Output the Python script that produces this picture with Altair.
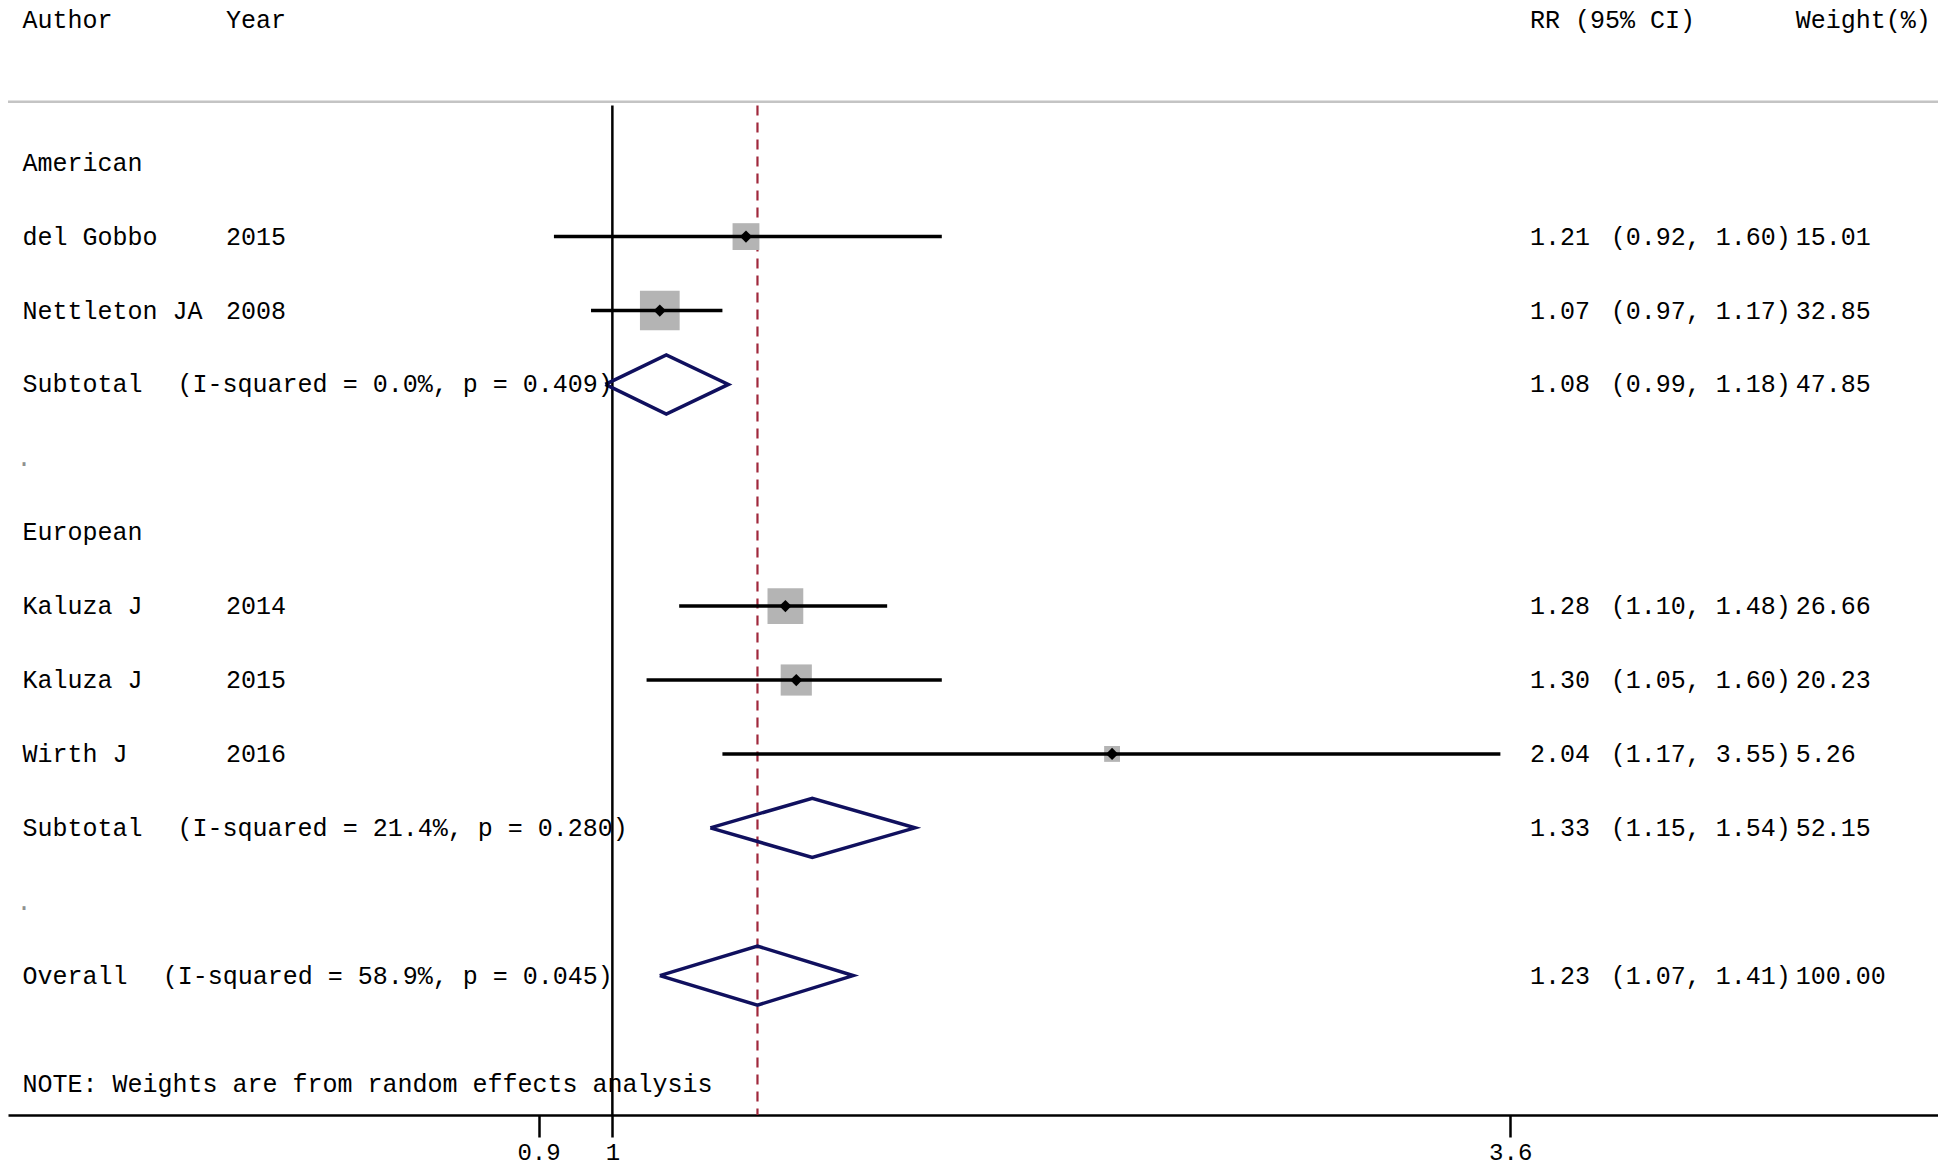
import altair as alt
import pandas as pd

# ---------------- data ----------------
study_authors = ["del Gobbo", "Nettleton JA", "Kaluza J", "Kaluza J", "Wirth J"]
study_years = ["2015", "2008", "2014", "2015", "2016"]
study_rr = [1.21, 1.07, 1.28, 1.30, 2.04]
study_lo = [0.92, 0.97, 1.10, 1.05, 1.17]
study_hi = [1.60, 1.17, 1.48, 1.60, 3.55]
study_wt = [15.01, 32.85, 26.66, 20.23, 5.26]
study_rows = [2, 3, 7, 8, 9]

pooled_labels = ["Subtotal", "Subtotal", "Overall"]
pooled_stats = ["(I-squared = 0.0%, p = 0.409)",
                "(I-squared = 21.4%, p = 0.280)",
                "(I-squared = 58.9%, p = 0.045)"]
pooled_rr = [1.08, 1.33, 1.23]
pooled_lo = [0.99, 1.15, 1.07]
pooled_hi = [1.18, 1.54, 1.41]
pooled_wt = [47.85, 52.15, 100.00]
pooled_rows = [4, 10, 12]

group_labels = ["American", "European"]
group_rows = [1, 6]
spacer_rows = [5, 11]

header_texts = ["Author", "Year", "RR (95% CI)", "Weight(%)"]
note_text = "NOTE: Weights are from random effects analysis"
tick_values = [0.9, 1, 3.6]

# ---------------- layout ----------------
W, H = 1930, 1107
FONT = "Liberation Mono"
FS = 25
X_AUTHOR, X_YEAR, X_SUB, X_OVR = 14.4, 218.0, 169.6, 154.7
X_RR, X_CI, X_WT = 1522.0, 1602.7, 1787.8
HEADER_ROW, HLINE_ROW, VTOP_ROW, NOTE_ROW = -0.93, 0.176, 0.227, 13.47
Y_TOP, Y_BOTTOM = -1.0934, 13.886
DIAMOND_H = 0.40

xscale = alt.Scale(type="log", domain=[0.4222, 6.628], nice=False)
yscale = alt.Scale(domain=[Y_TOP, Y_BOTTOM], reverse=True, nice=False, zero=False)
xaxis = alt.Axis(values=tick_values, format="~g", tickSize=22, tickWidth=2.5,
                 tickColor="black", domainColor="black", domainWidth=2.5,
                 labelFont=FONT, labelFontSize=24, labelColor="black",
                 labelPadding=3, grid=False, title=None, labelFlush=False)


def X(field):
    return alt.X(field, type="quantitative", scale=xscale, axis=xaxis)


def Y(field):
    return alt.Y(field, type="quantitative", scale=yscale, axis=None)


studies = pd.DataFrame({
    "author": study_authors, "year": study_years, "rr": study_rr,
    "lo": study_lo, "hi": study_hi, "wt": study_wt, "row": study_rows,
})
studies["est_s"] = [f"{v:.2f}" for v in study_rr]
studies["ci_s"] = [f"({l:.2f}, {h:.2f})" for l, h in zip(study_lo, study_hi)]
studies["wt_s"] = [f"{v:.2f}" for v in study_wt]

pooled = pd.DataFrame({
    "label": pooled_labels, "stats": pooled_stats, "rr": pooled_rr,
    "lo": pooled_lo, "hi": pooled_hi, "wt": pooled_wt, "row": pooled_rows,
})
pooled["est_s"] = [f"{v:.2f}" for v in pooled_rr]
pooled["ci_s"] = [f"({l:.2f}, {h:.2f})" for l, h in zip(pooled_lo, pooled_hi)]
pooled["wt_s"] = [f"{v:.2f}" for v in pooled_wt]

# diamond outlines from pooled estimates
dia_rows = []
for i, (l, e, h, r) in enumerate(zip(pooled_lo, pooled_rr, pooled_hi, pooled_rows)):
    pts = [(l, r), (e, r - DIAMOND_H), (h, r), (e, r + DIAMOND_H), (l, r)]
    for k, (xv, yv) in enumerate(pts):
        dia_rows.append({"id": i, "k": k, "xv": xv, "yv": yv})
diamonds = pd.DataFrame(dia_rows)

groups = pd.DataFrame({"label": group_labels, "row": group_rows})
spacers = pd.DataFrame({"label": ["."] * len(spacer_rows), "row": spacer_rows})
note = pd.DataFrame({"label": [note_text], "row": [NOTE_ROW]})
hline = pd.DataFrame({"row": [HLINE_ROW]})
null_line = pd.DataFrame({"v": [1.0], "y0": [VTOP_ROW], "y1": [Y_BOTTOM]})
overall_line = pd.DataFrame({"v": [pooled_rr[-1]], "y0": [VTOP_ROW], "y1": [Y_BOTTOM]})


def text_layer(df, field, xpx, color="black"):
    return alt.Chart(df).mark_text(
        align="left", baseline="middle", font=FONT, fontSize=FS, color=color
    ).encode(x=alt.value(xpx), y=Y("row"), text=alt.Text(field, type="nominal"))


headers = [
    text_layer(pd.DataFrame({"t": [t], "row": [HEADER_ROW]}), "t", xp)
    for t, xp in zip(header_texts, [X_AUTHOR, X_YEAR, X_RR, X_WT])
]

layers = [
    alt.Chart(hline).mark_rule(color="#c4c4c4", strokeWidth=2.5).encode(
        y=Y("row"), x=alt.value(0), x2=alt.value(W)),
    alt.Chart(null_line).mark_rule(color="black", strokeWidth=2.5).encode(
        x=X("v"), y=Y("y0"), y2="y1"),
    alt.Chart(overall_line).mark_rule(color="#a0283c", strokeWidth=2.2,
                                      strokeDash=[10, 7]).encode(
        x=X("v"), y=Y("y0"), y2="y1"),
    alt.Chart(studies).mark_square(filled=True, color="#b4b4b4", opacity=1).encode(
        x=X("rr"), y=Y("row"),
        size=alt.Size("wt:Q", scale=alt.Scale(domain=[0, 100], range=[0, 4800]),
                      legend=None)),
    alt.Chart(studies).mark_rule(color="black", strokeWidth=3.5).encode(
        x=X("lo"), x2="hi", y=Y("row")),
    alt.Chart(studies).mark_point(shape="diamond", filled=True, color="black",
                                  opacity=1, size=150).encode(
        x=X("rr"), y=Y("row")),
    alt.Chart(diamonds).mark_line(color="#10105e", strokeWidth=3.5).encode(
        x=X("xv"), y=Y("yv"), detail="id:N", order="k:Q"),
    *headers,
    text_layer(groups, "label", X_AUTHOR),
    text_layer(spacers, "label", X_AUTHOR - 6, color="#909090"),
    text_layer(studies, "author", X_AUTHOR),
    text_layer(studies, "year", X_YEAR),
    text_layer(studies, "est_s", X_RR),
    text_layer(studies, "ci_s", X_CI),
    text_layer(studies, "wt_s", X_WT),
    text_layer(pooled, "label", X_AUTHOR),
    text_layer(pooled[pooled["label"] == "Subtotal"], "stats", X_SUB),
    text_layer(pooled[pooled["label"] == "Overall"], "stats", X_OVR),
    text_layer(pooled, "est_s", X_RR),
    text_layer(pooled, "ci_s", X_CI),
    text_layer(pooled, "wt_s", X_WT),
    text_layer(note, "label", X_AUTHOR),
]

chart = alt.layer(*layers).properties(
    width=W, height=H,
    autosize=alt.AutoSizeParams(type="none"),
    padding={"left": 0, "top": 0, "right": 0, "bottom": 52},
    background="white",
).configure_view(stroke=None)

chart.save("out.html", embed_options={"renderer": "svg", "actions": False})
